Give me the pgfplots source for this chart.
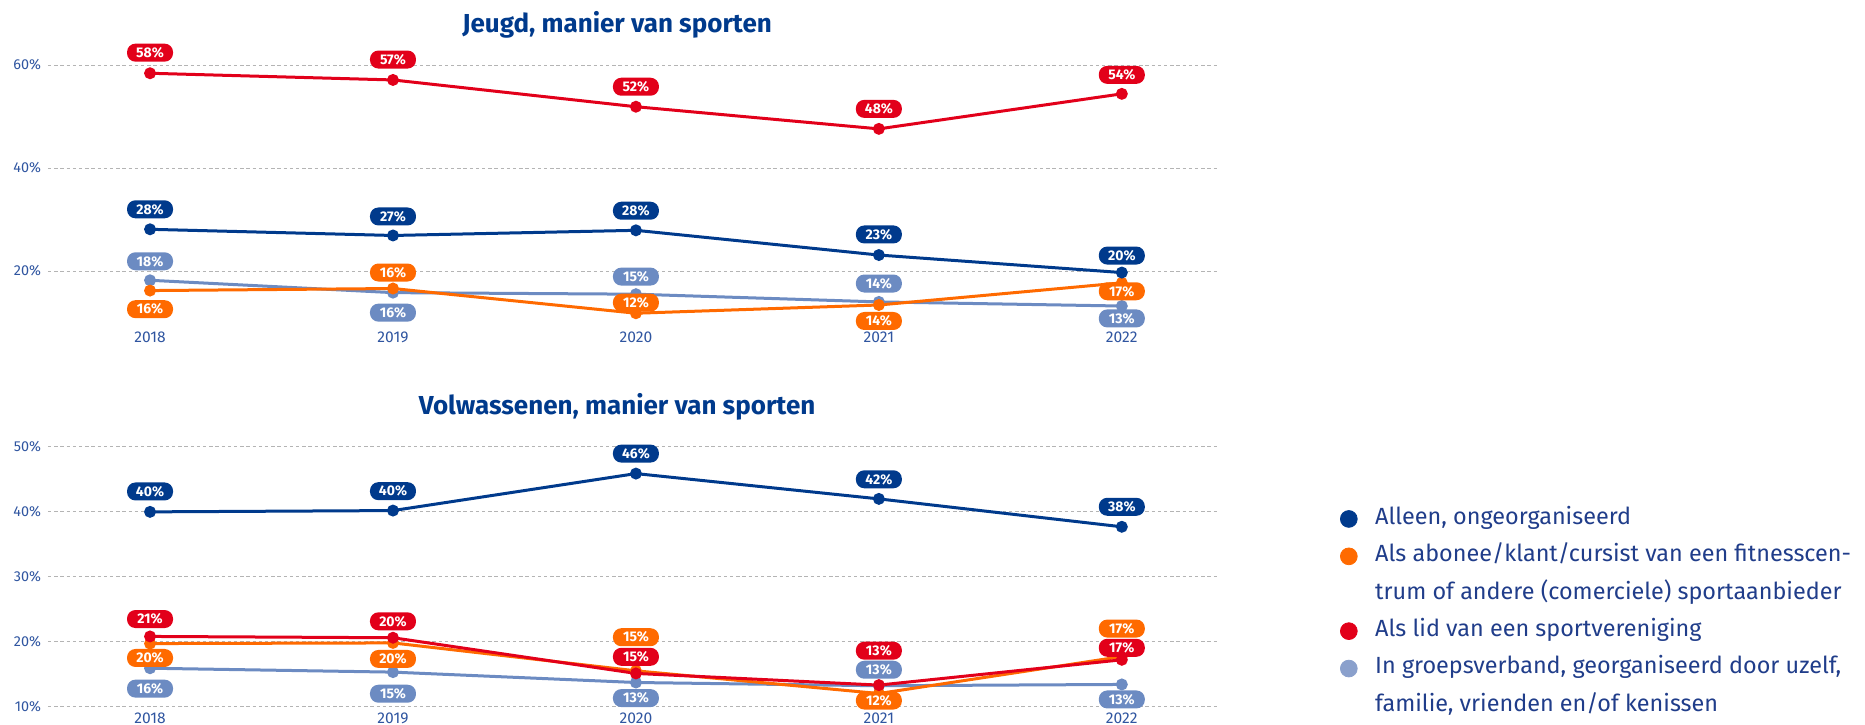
\documentclass[border=0pt]{standalone}
\usepackage{fontspec}
\setmainfont{Fira Sans}
\usepackage{pgfplots}
\usepackage{pgfplotstable}
\pgfplotsset{compat=1.18}
\definecolor{cNavy}{HTML}{003A8C}
\definecolor{cOrange}{HTML}{FF6A00}
\definecolor{cRed}{HTML}{E2001A}
\definecolor{cLB}{HTML}{6C8BC2}
\definecolor{cLBleg}{HTML}{8AA0CC}
\definecolor{cTick}{HTML}{2F55A0}
\definecolor{cGrid}{HTML}{B4B4B4}
\definecolor{cLegText}{HTML}{203D8A}

% top chart (Jeugd)
\pgfplotstableread{
x y lab dy
0 58.4 58 10.3
1 57.1 57 10.2
2 51.9 52 10
3 47.6 48 10
4 54.4 54 9.5
}\TRed
\pgfplotstableread{
x y lab dy
0 28.1 28 10
1 26.9 27 9.5
2 27.9 28 9.8
3 23.1 23 10.3
4 19.7 20 8.5
}\TNavy
\pgfplotstableread{
x y lab dy
0 16.2 16 -9.3
1 16.6 16 8
2 11.8 12 5.3
3 13.4 14 -8
4 17.7 17 -4.2
}\TOrange
\pgfplotstableread{
x y lab dy
0 18.2 18 9.5
1 15.8 16 -10
2 15.5 15 8.8
3 14.0 14 9.2
4 13.2 13 -6.2
}\TLB
% bottom chart (Volwassenen)
\pgfplotstableread{
x y lab dy
0 40.0 40 10.2
1 40.2 40 9.7
2 45.9 46 10
3 42.0 42 9.8
4 37.7 38 10
}\BNavy
\pgfplotstableread{
x y lab dy
0 20.8 21 8.7
1 20.6 20 8.2
2 15.1 15 8.3
3 13.3 13 17.2
4 17.2 17 6
}\BRed
\pgfplotstableread{
x y lab dy
0 19.7 20 -7.2
1 19.8 20 -8
2 15.5 15 16.8
3 12.0 12 -3.5
4 17.7 17 14
}\BOrange
\pgfplotstableread{
x y lab dy
0 15.9 16 -10.2
1 15.3 15 -10.8
2 13.7 13 -7.8
3 13.2 13 8
4 13.4 13 -7.5
}\BLB

\pgfplotsset{
 base/.style={
  scale only axis, width=585.5pt,
  xmin=-0.42, xmax=4.40,
  xtick={0,1,2,3,4}, xticklabels={2018,2019,2020,2021,2022},
  axis line style={draw=none}, major tick length=0pt,
  ymajorgrids, grid style={cGrid, dash pattern=on 1.7pt off 1.4pt, line width=0.5pt},
  yticklabel style={font=\fontsize{7.2}{8}\selectfont, text=cTick},
  xticklabel style={font=\fontsize{7.8}{9}\selectfont, text=cTick},
  /pgf/number format/assume math mode=true,
  yticklabel={\pgfmathprintnumber{\tick}\%},
  clip=false,
  every axis title shift=0pt,
  title style={font=\bfseries\fontsize{13}{15}\selectfont, text=cNavy, anchor=center},
 },
 ser/.style={line width=1.5pt, color=#1, mark=*, mark size=2.2pt, mark options={solid, fill=#1, draw=#1}, forget plot},
 lab/.style={draw=none, mark=none, forget plot, point meta=\thisrow{lab},
   nodes near coords={\pgfmathprintnumber{\pgfplotspointmeta}\%},
   visualization depends on={\thisrow{dy}\as\dy},
   every node near coord/.append style={anchor=center, yshift=\dy pt, fill=#1, text=white, font=\bfseries\fontsize{7}{8}\selectfont, rounded corners=4.2pt, minimum width=23pt, minimum height=9pt, inner sep=0pt}},
}

\begin{document}
\begin{tikzpicture}
\useasboundingbox (0,0) rectangle (932.5pt,-362pt);
\begin{axis}[base, at={(24pt,-161.25pt)}, anchor=south west, height=139.05pt,
  ymin=10, ymax=64, ytick={20,40,60},
  title={Jeugd, manier van sporten}, title style={at={(0.486,1)}, yshift=9.75pt},
  xticklabel style={anchor=center, yshift=-7.25pt}]
\addplot[ser=cLB] table[x=x,y=y] {\TLB};
\addplot[ser=cOrange] table[x=x,y=y] {\TOrange};
\addplot[ser=cRed] table[x=x,y=y] {\TRed};
\addplot[ser=cNavy] table[x=x,y=y] {\TNavy};
\addplot[lab=cLB] table[x=x,y=y] {\TLB};
\addplot[lab=cOrange] table[x=x,y=y] {\TOrange};
\addplot[lab=cRed] table[x=x,y=y] {\TRed};
\addplot[lab=cNavy] table[x=x,y=y] {\TNavy};
\end{axis}
\begin{axis}[base, at={(24pt,-353.25pt)}, anchor=south west, height=136.25pt,
  ymin=10, ymax=52, ytick={10,20,30,40,50},
  title={Volwassenen, manier van sporten}, title style={at={(0.486,1)}, yshift=13.8pt},
  xticklabel style={anchor=center, yshift=-5.75pt},
  legend cell align=left,
  legend style={at={(axis description cs:1.103,0.7584)}, anchor=north west, draw=none, fill=none, inner sep=0pt,
    font=\fontsize{11.7}{13}\selectfont, text=cLegText, row sep=0pt,
    nodes={inner sep=0pt, text height=12pt, text depth=6.7pt},
    /tikz/every odd column/.style={column sep=8.8pt}}]
\addplot[ser=cLB] table[x=x,y=y] {\BLB};
\addplot[ser=cOrange] table[x=x,y=y] {\BOrange};
\addplot[ser=cRed] table[x=x,y=y] {\BRed};
\addplot[ser=cNavy] table[x=x,y=y] {\BNavy};
\addplot[lab=cLB] table[x=x,y=y] {\BLB};
\addplot[lab=cOrange] table[x=x,y=y] {\BOrange};
\addplot[lab=cRed] table[x=x,y=y] {\BRed};
\addplot[lab=cNavy] table[x=x,y=y] {\BNavy};
\addlegendimage{legend image code/.code={\fill[cNavy] (0pt,0pt) circle (4.2pt);}}
\addlegendentry{Alleen, ongeorganiseerd}
\addlegendimage{legend image code/.code={\fill[cOrange] (0pt,0pt) circle (4.2pt);}}
\addlegendentry{Als abonee/klant/cursist van een fitnesscen-}
\addlegendimage{empty legend}
\addlegendentry{trum of andere (comerciele) sportaanbieder}
\addlegendimage{legend image code/.code={\fill[cRed] (0pt,0pt) circle (4.2pt);}}
\addlegendentry{Als lid van een sportvereniging}
\addlegendimage{legend image code/.code={\fill[cLBleg] (0pt,0pt) circle (4.2pt);}}
\addlegendentry{In groepsverband, georganiseerd door uzelf,}
\addlegendimage{empty legend}
\addlegendentry{familie, vrienden en/of kenissen}
\end{axis}
\end{tikzpicture}
\end{document}
